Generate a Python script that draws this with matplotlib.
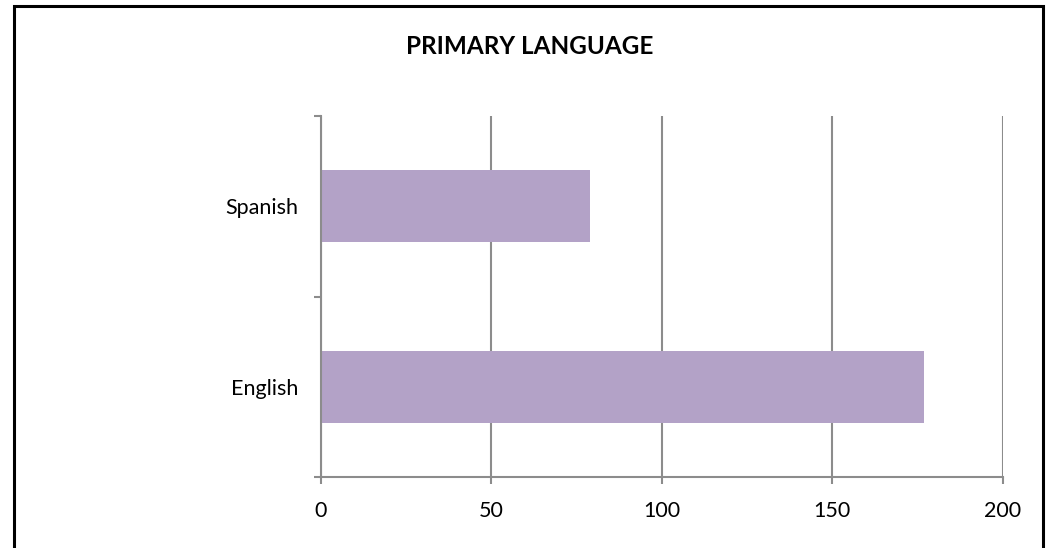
import matplotlib
matplotlib.use("Agg")
import matplotlib.pyplot as plt
from matplotlib.patches import Rectangle

categories = ["English", "Spanish"]
values = [177, 79]
x_ticks = [0, 50, 100, 150, 200]
title = "PRIMARY LANGUAGE"

plt.rcParams['font.family'] = ['Lato', 'DejaVu Sans']

W, H = 1052, 548
fig = plt.figure(figsize=(W / 100, H / 100), dpi=100)
fig.patch.set_facecolor("white")

# outer chart border
fig.add_artist(Rectangle((13.5 / W, -0.01), (1043 - 13.5) / W, 1.01 - 6 / H,
                         transform=fig.transFigure, fill=False,
                         edgecolor="black", linewidth=2.2))

ax = fig.add_axes([321 / W, 71 / H, (1002.5 - 321) / W, (477 - 116) / H])
grid_c = "#8c8c8c"
pos = list(range(len(categories)))
ax.barh(pos, values, height=0.4, color="#B3A2C7", zorder=3)

ax.set_xlim(0, 200)
ax.set_ylim(-0.5, len(categories) - 0.5)
ax.set_xticks(x_ticks)
ax.set_xticklabels([str(t) for t in x_ticks], fontsize=15.5)
ax.set_yticks(pos)
ax.set_yticklabels(categories, fontsize=15.5)
ax.tick_params(axis="y", length=0, pad=16)
ax.set_yticks([-0.5, 0.5, 1.5], minor=True)
ax.tick_params(axis="y", which="minor", length=5, width=1.5, color=grid_c)
ax.tick_params(axis="x", length=5, width=1.5, color=grid_c, pad=12)

ax.grid(axis="x", color=grid_c, linewidth=1.5, zorder=0)
for s in ["top", "right"]:
    ax.spines[s].set_visible(False)
for s in ["left", "bottom"]:
    ax.spines[s].set_color(grid_c)
    ax.spines[s].set_linewidth(1.5)
    ax.spines[s].set_zorder(4)

fig.text(529.5 / W, 1 - 47 / H, title, ha="center", va="center",
         fontsize=17.5, fontweight="bold")

fig.savefig("out.png", dpi=100, facecolor="white")
